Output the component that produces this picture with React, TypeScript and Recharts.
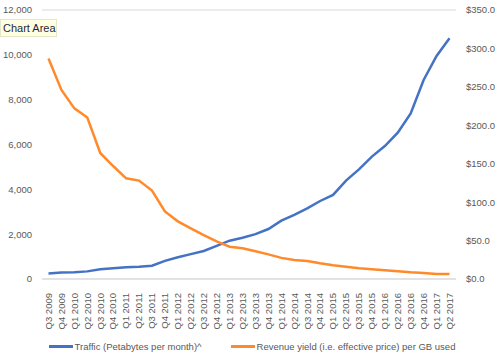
import React from "react";
import {
  LineChart,
  Line,
  XAxis,
  YAxis,
  CartesianGrid,
  Legend,
} from "recharts";

const quarters = [
  "Q3 2009", "Q4 2009",
  "Q1 2010", "Q2 2010", "Q3 2010", "Q4 2010",
  "Q1 2011", "Q2 2011", "Q3 2011", "Q4 2011",
  "Q1 2012", "Q2 2012", "Q3 2012", "Q4 2012",
  "Q1 2013", "Q2 2013", "Q3 2013", "Q4 2013",
  "Q1 2014", "Q2 2014", "Q3 2014", "Q4 2014",
  "Q1 2015", "Q2 2015", "Q3 2015", "Q4 2015",
  "Q1 2016", "Q2 2016", "Q3 2016", "Q4 2016",
  "Q1 2017", "Q2 2017",
];

// Petabytes per month (left axis)
const traffic = [
  250, 295, 300, 340, 430, 475, 520, 550, 595, 810,
  970, 1110, 1250, 1480, 1710, 1840, 2000, 2230, 2600, 2860,
  3150, 3480, 3750, 4390, 4890, 5460, 5930, 6530, 7390, 8880,
  9950, 10740,
];

// $ per GB (right axis)
const revenueYield = [
  287, 246, 222, 210, 164, 147, 131, 128, 115, 88,
  75, 66, 57, 49, 42, 40, 36, 32, 27.5, 24.7,
  23.4, 20.4, 17.8, 16, 13.9, 12.6, 11.3, 10, 8.7, 7.8,
  6.5, 6.5,
];

const leftTicks = [0, 2000, 4000, 6000, 8000, 10000, 12000];
const rightTicks = [0, 50, 100, 150, 200, 250, 300, 350];

const trafficLabel = "Traffic (Petabytes per month)^";
const yieldLabel = "Revenue yield (i.e. effective price) per GB used";

const BLUE = "#4472C4";
const ORANGE = "#FF8A2B";
const GRID = "#D9D9D9";
const TEXT = "#595959";
const FONT = "'Liberation Sans', Arial, sans-serif";
const FS = 9.5;

const data = quarters.map((q, i) => ({
  quarter: q,
  traffic: traffic[i],
  revenueYield: revenueYield[i],
}));

function QuarterTick(props: any) {
  const { x, y, payload } = props;
  return (
    <text
      x={x}
      y={y + 6}
      transform={`rotate(-90 ${x} ${y + 6})`}
      textAnchor="end"
      dy="0.35em"
      fontSize={FS}
      fontFamily={FONT}
      fill={TEXT}
    >
      {payload.value}
    </text>
  );
}

function LegendContent() {
  const item = (color: string, label: string) => (
    <div style={{ display: "flex", alignItems: "center" }}>
      <div style={{ width: 24, height: 3, background: color, marginRight: 2 }} />
      <span>{label}</span>
    </div>
  );
  return (
    <div style={{ paddingTop: 2, height: 20 }}>
      <div
        style={{
          display: "flex",
          justifyContent: "center",
          gap: 29,
          height: 20,
          alignItems: "center",
          fontSize: FS,
          fontFamily: FONT,
          color: TEXT,
        }}
      >
        {item(BLUE, trafficLabel)}
        {item(ORANGE, yieldLabel)}
      </div>
    </div>
  );
}

export default function App() {
  return (
    <div style={{ position: "absolute", left: 0, top: 0, width: 504, height: 356, background: "#fff" }}>
      <LineChart
        width={504}
        height={356}
        data={data}
        margin={{ top: 10, right: 0, left: 0, bottom: 0 }}
      >
        <CartesianGrid vertical={false} stroke={GRID} strokeWidth={1} />
        <XAxis
          dataKey="quarter"
          interval={0}
          height={55}
          padding={{ left: 6.5, right: 6.5 }}
          tickLine={false}
          axisLine={{ stroke: GRID }}
          tick={<QuarterTick />}
        />
        <YAxis
          yAxisId="left"
          width={42}
          domain={[0, 12000]}
          ticks={leftTicks}
          tickFormatter={(v: number) => v.toLocaleString("en-US")}
          axisLine={false}
          tickLine={false}
          tickSize={0}
          tickMargin={10}
          tick={{ fontSize: FS, fill: TEXT, fontFamily: FONT }}
        />
        <YAxis
          yAxisId="right"
          orientation="right"
          width={48}
          domain={[0, 350]}
          ticks={rightTicks}
          tickFormatter={(v: number) => `$${v.toFixed(1)}`}
          axisLine={false}
          tickLine={false}
          tickSize={0}
          tickMargin={10}
          tick={{ fontSize: FS, fill: TEXT, fontFamily: FONT }}
        />
        <Legend verticalAlign="bottom" content={<LegendContent />} />
        <Line
          yAxisId="left"
          type="linear"
          dataKey="traffic"
          name={trafficLabel}
          stroke={BLUE}
          strokeWidth={2.5}
          dot={false}
          isAnimationActive={false}
        />
        <Line
          yAxisId="right"
          type="linear"
          dataKey="revenueYield"
          name={yieldLabel}
          stroke={ORANGE}
          strokeWidth={2.5}
          dot={false}
          isAnimationActive={false}
        />
      </LineChart>
      <div
        style={{
          position: "absolute",
          left: 0,
          top: 19,
          width: 57,
          height: 18,
          background: "#FFFFE1",
          border: "1px solid #E6E6C8",
          boxSizing: "border-box",
          fontSize: 11,
          lineHeight: "16px",
          fontFamily: FONT,
          color: "#1F1F3F",
          paddingLeft: 2,
          whiteSpace: "nowrap",
        }}
      >
        Chart Area
      </div>
    </div>
  );
}
